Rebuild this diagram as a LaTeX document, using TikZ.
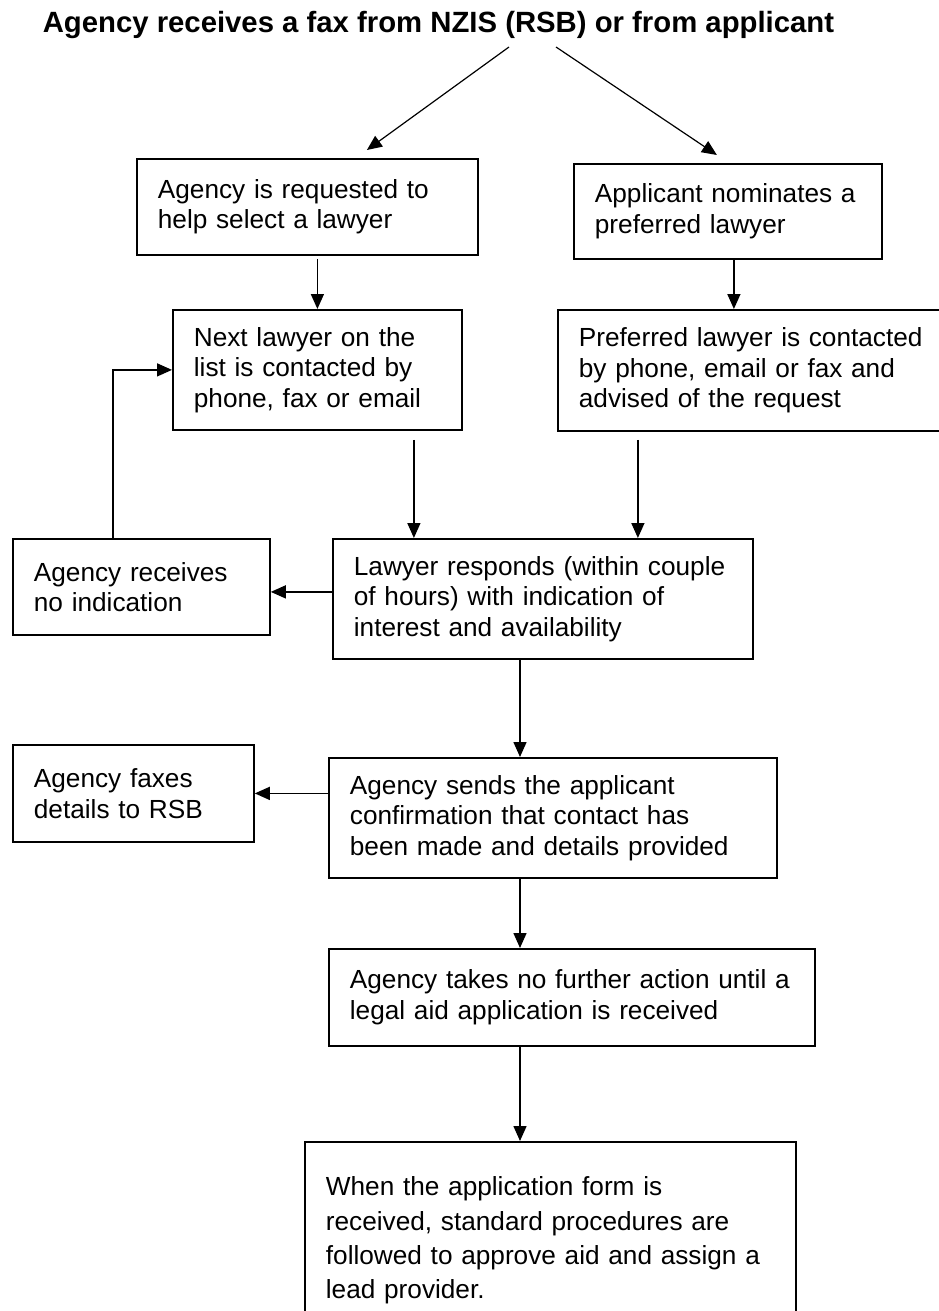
\documentclass[tikz,border=0pt]{standalone}
\usepackage{fontspec}
\setmainfont{Liberation Sans}
\usetikzlibrary{arrows.meta, positioning, calc}

\begin{document}
\begin{tikzpicture}[x=1pt, y=-1pt,
  stepbox/.style={draw, line width=1.8pt, rectangle, align=left, anchor=north west,
    inner xsep=21pt, inner ysep=0pt, font=\fontsize{26.2}{30.5}\selectfont},
  flow/.style={line width=1.5pt, -{Triangle[length=15pt, width=13pt]}}]
  \useasboundingbox (0,0) rectangle (939,1311);
  \clip (0,0) rectangle (939,1311);
  \fill[white] (0,0) rectangle (939,1311);

  \node[anchor=base, inner sep=0pt, font=\fontsize{29.3}{34}\selectfont\bfseries] (fax) at (438.5,33)
    {Agency receives a fax from NZIS (RSB) or from applicant};

  \node[stepbox, text width=299pt, minimum height=96pt] (select) at (136,158)
    {Agency is requested to\\help select a lawyer};
  \node[stepbox, text width=266pt, minimum height=95pt] (nominate) at (573,163)
    {Applicant nominates a\\preferred lawyer};
  \node[stepbox, text width=247pt, minimum height=120pt] (nextlawyer) at (172,309)
    {Next lawyer on the\\list is contacted by\\phone, fax or email};
  \node[stepbox, text width=380pt, minimum height=121pt] (preferred) at (557,309)
    {Preferred lawyer is contacted\\by phone, email or fax and\\advised of the request};
  \node[stepbox, text width=378pt, minimum height=120pt] (respond) at (332,538)
    {Lawyer responds (within couple\\of hours) with indication of\\interest and availability};
  \node[stepbox, text width=215pt, minimum height=96pt] (noreply) at (12,538)
    {Agency receives\\no indication};
  \node[stepbox, text width=406pt, minimum height=120pt] (confirm) at (328,757)
    {Agency sends the applicant\\confirmation that contact has\\been made and details provided};
  \node[stepbox, text width=199pt, minimum height=97pt] (faxrsb) at (12,744)
    {Agency faxes\\details to RSB};
  \node[stepbox, text width=444pt, minimum height=97pt] (noaction) at (328,948)
    {Agency takes no further action until a\\legal aid application is received};
  \node[stepbox, text width=449pt, minimum height=197pt, font=\fontsize{26.2}{34.3}\selectfont] (approve) at (304,1141)
    {When the application form is\\received, standard procedures are\\followed to approve aid and assign a\\lead provider.};

  \coordinate (spine) at (520,0);

  \draw[flow, line width=1.2pt] ([xshift=70.5pt,yshift=-14pt]fax.base) -- ([xshift=59.5pt,yshift=8pt]select.north);
  \draw[flow, line width=1.2pt] ([xshift=117.5pt,yshift=-14pt]fax.base) -- ([xshift=-11pt,yshift=8pt]nominate.north);
  \draw[flow, shorten <=3pt] (select.south -| nextlawyer.north) -- (nextlawyer.north);
  \draw[flow] ([xshift=6pt]nominate.south) -- ([xshift=6pt]nominate.south |- preferred.north);
  \draw[flow, shorten <=9pt] ([xshift=96.5pt]nextlawyer.south) -- ([xshift=96.5pt]nextlawyer.south |- respond.north);
  \draw[flow, shorten <=8pt] ([xshift=-131pt]preferred.south) -- ([xshift=-131pt]preferred.south |- respond.north);
  \draw[flow] ([yshift=-5pt]noreply.east -| respond.west) -- ([yshift=-5pt]noreply.east);
  \draw[flow] ([xshift=-28.5pt]noreply.north) |- (nextlawyer.west);
  \draw[flow] (respond.south -| spine) -- (confirm.north -| spine);
  \draw[flow] (faxrsb.east -| confirm.west) -- (faxrsb.east);
  \draw[flow] (confirm.south -| spine) -- (noaction.north -| spine);
  \draw[flow] (noaction.south -| spine) -- (approve.north -| spine);
\end{tikzpicture}
\end{document}
